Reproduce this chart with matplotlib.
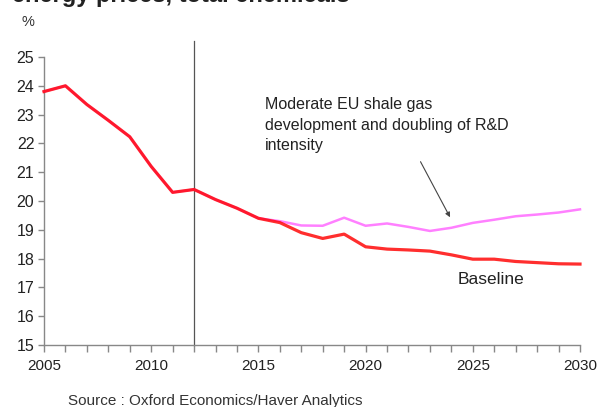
import numpy as np
import matplotlib.pyplot as plt
from matplotlib.ticker import MultipleLocator

plt.rcParams['font.family'] = ['Liberation Sans', 'DejaVu Sans']

# data
years = list(range(2005, 2031))
baseline = [23.8, 24.0, 23.35, 22.8, 22.23, 21.2, 20.3, 20.4, 20.05, 19.75, 19.4,
            19.25, 18.9, 18.7, 18.85, 18.41, 18.33, 18.3, 18.26, 18.13, 17.98,
            17.98, 17.9, 17.86, 17.82, 17.81]
shale_rd = [23.8, 24.0, 23.35, 22.8, 22.23, 21.2, 20.3, 20.4, 20.05, 19.75, 19.4,
            19.3, 19.15, 19.14, 19.42, 19.14, 19.22, 19.1, 18.96, 19.07, 19.24,
            19.35, 19.47, 19.53, 19.6, 19.71]
forecast_start = 2012

fig = plt.figure(figsize=(6.03, 4.07), dpi=100)
ax = fig.add_axes([44/603, 62/407, 536/603, 288/407])

ax.plot(years, shale_rd, color='#ff80ff', lw=1.8, zorder=3, clip_on=False)
ax.plot(years, baseline, color='#ff0000', lw=2.3, alpha=0.82, zorder=4, clip_on=False)

ax.axvline(forecast_start, ymin=0, ymax=1.055, color='#555555', lw=0.9, clip_on=False)

ax.set_xlim(2005, 2030)
ax.set_ylim(15, 25)
ax.xaxis.set_major_locator(MultipleLocator(5))
ax.xaxis.set_minor_locator(MultipleLocator(1))
ax.yaxis.set_major_locator(MultipleLocator(1))

for s in ['top', 'right']:
    ax.spines[s].set_visible(False)
for s in ['left', 'bottom']:
    ax.spines[s].set_color('#888888')
    ax.spines[s].set_linewidth(1.0)

ax.tick_params(axis='both', which='both', direction='out', color='#888888', width=1.0)
ax.tick_params(axis='x', which='major', length=5, labelsize=11, pad=5, labelcolor='#222222')
ax.tick_params(axis='x', which='minor', length=5)
ax.tick_params(axis='y', which='major', length=4, labelsize=11.5, pad=3, labelcolor='#222222')

ax.annotate('', xy=(2024.0, 19.35), xytext=(2022.5, 21.45),
            arrowprops=dict(arrowstyle='-|>', color='#444444', lw=0.8,
                            mutation_scale=7))
ax.text(2015.3, 21.66, 'Moderate EU shale gas\ndevelopment and doubling of R&D\nintensity',
        fontsize=11.5, color='#222222', linespacing=1.45, va='bottom', ha='left')
ax.text(2024.3, 17.28, 'Baseline', fontsize=12.5, color='#222222', va='center', ha='left')

fig.text(22/603, 1 - 22/407, '%', fontsize=10.5, color='#333333', va='center', ha='left')
fig.text(12/603, 1 - 2/407, 'energy prices, total chemicals', fontsize=17,
         fontweight='bold', color='#222222', va='baseline', ha='left')
fig.text(68/603, 1 - 401/407, 'Source : Oxford Economics/Haver Analytics', fontsize=11,
         color='#333333', va='center', ha='left')

fig.savefig('out.png', dpi=100)
